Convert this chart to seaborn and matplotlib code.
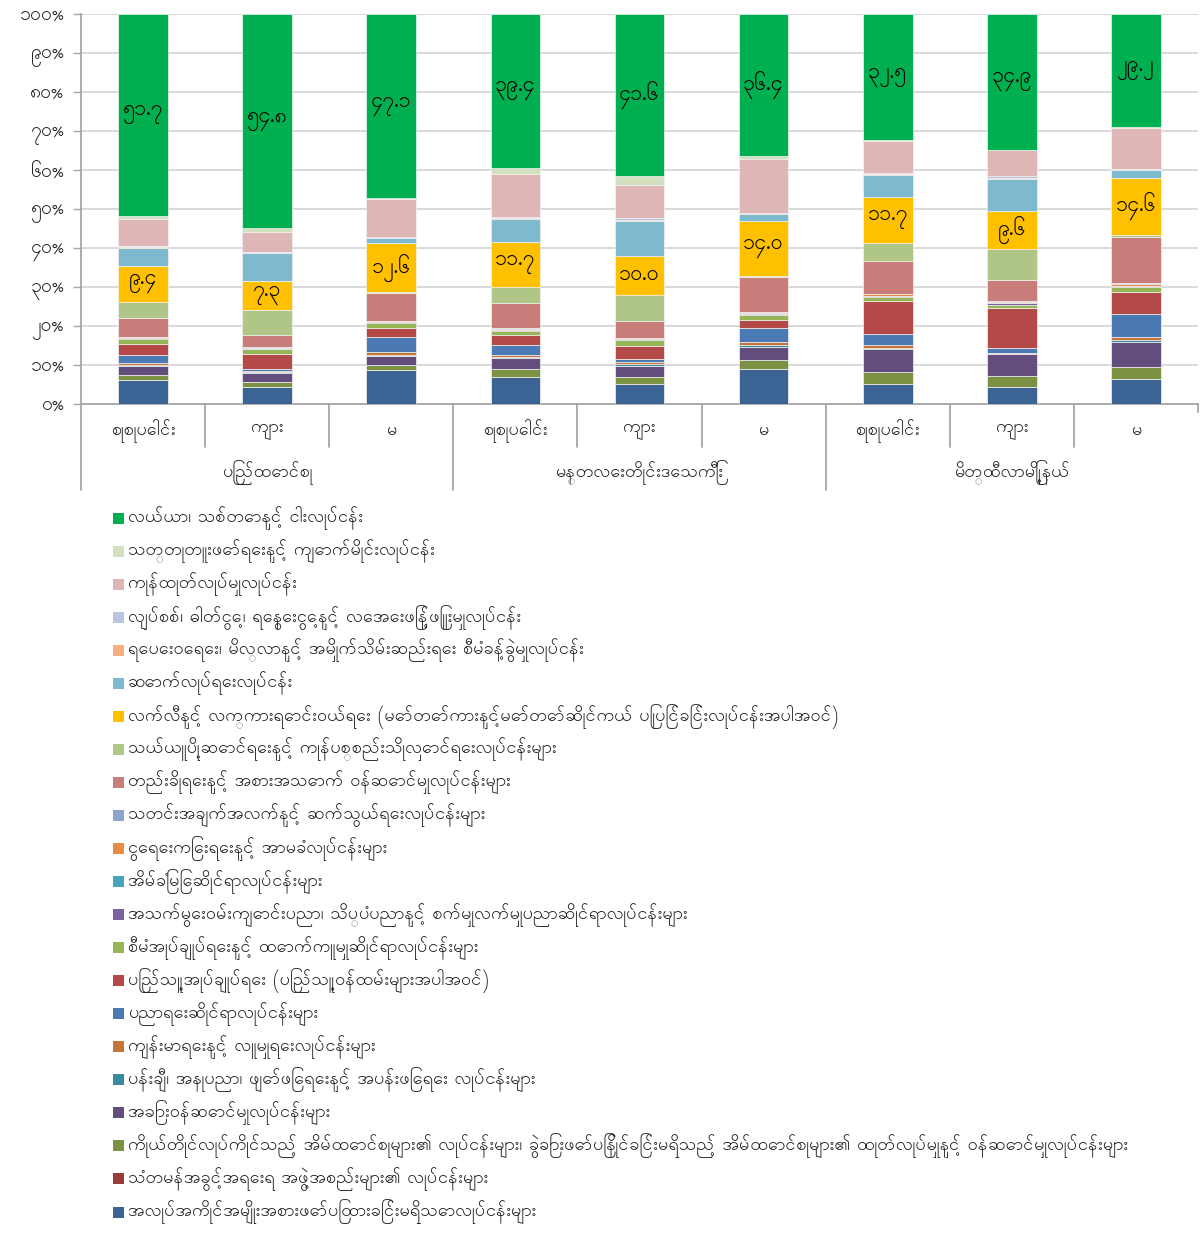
import matplotlib
matplotlib.use("Agg")
import matplotlib.pyplot as plt
import matplotlib.transforms as mtransforms
from matplotlib.patches import Rectangle
from matplotlib.lines import Line2D
from matplotlib import font_manager
import seaborn as sns

# ---------------- data ----------------
groups = ["ပြည်ထောင်စု", "မန္တလေးတိုင်းဒေသကြီး", "မိတ္ထီလာမြို့နယ်"]
subgroups = ["စုစုပေါင်း", "ကျား", "မ"]
bar_keys = ["b0", "b1", "b2", "b3", "b4", "b5", "b6", "b7", "b8"]

series_labels = [
    "လယ်ယာ၊ သစ်တောနှင့် ငါးလုပ်ငန်း",
    "သတ္တုတူးဖော်ရေးနှင့် ကျောက်မိုင်းလုပ်ငန်း",
    "ကုန်ထုတ်လုပ်မှုလုပ်ငန်း",
    "လျှပ်စစ်၊ ဓါတ်ငွေ့၊ ရေနွေးငွေ့နှင့် လေအေးဖြန့်ဖြူးမှုလုပ်ငန်း",
    "ရေပေးဝေရေး၊ မိလ္လာနှင့် အမှိုက်သိမ်းဆည်းရေး စီမံခန့်ခွဲမှုလုပ်ငန်း",
    "ဆောက်လုပ်ရေးလုပ်ငန်း",
    "လက်လီနှင့် လက္ကားရောင်းဝယ်ရေး (မော်တော်ကားနှင့်မော်တော်ဆိုင်ကယ် ပြုပြင်ခြင်းလုပ်ငန်းအပါအဝင်)",
    "သယ်ယူပို့ဆောင်ရေးနှင့် ကုန်ပစ္စည်းသိုလှောင်ရေးလုပ်ငန်းများ",
    "တည်းခိုရေးနှင့် အစားအသောက် ဝန်ဆောင်မှုလုပ်ငန်းများ",
    "သတင်းအချက်အလက်နှင့် ဆက်သွယ်ရေးလုပ်ငန်းများ",
    "ငွေရေးကြေးရေးနှင့် အာမခံလုပ်ငန်းများ",
    "အိမ်ခြံမြေဆိုင်ရာလုပ်ငန်းများ",
    "အသက်မွေးဝမ်းကျောင်းပညာ၊ သိပ္ပံပညာနှင့် စက်မှုလက်မှုပညာဆိုင်ရာလုပ်ငန်းများ",
    "စီမံအုပ်ချုပ်ရေးနှင့် ထောက်ကူမှုဆိုင်ရာလုပ်ငန်းများ",
    "ပြည်သူ့အုပ်ချုပ်ရေး (ပြည်သူ့ဝန်ထမ်းများအပါအဝင်)",
    "ပညာရေးဆိုင်ရာလုပ်ငန်းများ",
    "ကျန်းမာရေးနှင့် လူမှုရေးလုပ်ငန်းများ",
    "ပန်းချီ၊ အနုပညာ၊ ဖျော်ဖြေရေးနှင့် အပန်းဖြေရေး လုပ်ငန်းများ",
    "အခြားဝန်ဆောင်မှုလုပ်ငန်းများ",
    "ကိုယ်တိုင်လုပ်ကိုင်သည့် အိမ်ထောင်စုများ၏ လုပ်ငန်းများ၊ ခွဲခြားဖော်ပြနိုင်ခြင်းမရှိသည့် အိမ်ထောင်စုများ၏ ထုတ်လုပ်မှုနှင့် ဝန်ဆောင်မှုလုပ်ငန်းများ",
    "သံတမန်အခွင့်အရေးရ အဖွဲ့အစည်းများ၏ လုပ်ငန်းများ",
    "အလုပ်အကိုင်အမျိုးအစားဖော်ပြထားခြင်းမရှိသောလုပ်ငန်းများ",
]

series_colors = [
    "#00B050", "#D3E0BF", "#DEB6B6", "#B7C5DE", "#F8AE7E", "#7EB9CE",
    "#FFC000", "#AFC686", "#C97D7B", "#8CA4CC", "#E98B43", "#46A4BE",
    "#7C61A0", "#96B556", "#B34A47", "#4A79B3", "#C57436", "#3A8AA0",
    "#634D7C", "#7A9242", "#9A3B39", "#3B6494",
]

# values in percent, one list per series (top of stack first)
agriculture    = [51.7, 54.8, 47.1, 39.4, 41.6, 36.4, 32.5, 34.9, 29.2]
mining         = [0.9, 1.1, 0.3, 1.7, 2.3, 0.9, 0.2, 0.2, 0.2]
manufacturing  = [7.0, 5.0, 9.7, 11.0, 8.4, 13.7, 8.1, 6.6, 10.4]
electricity    = [0.2, 0.2, 0.2, 0.3, 0.6, 0.2, 0.4, 0.5, 0.2]
water_supply   = [0.1, 0.2, 0.1, 0.2, 0.3, 0.1, 0.2, 0.2, 0.1]
construction   = [4.6, 7.1, 1.2, 5.8, 8.8, 2.0, 5.6, 8.3, 2.0]
wholesale      = [9.4, 7.3, 12.6, 11.7, 10.0, 14.0, 11.7, 9.6, 14.6]
transport      = [4.0, 6.4, 0.3, 4.1, 6.7, 0.3, 4.8, 7.9, 0.5]
accommodation  = [4.8, 3.3, 7.0, 6.4, 4.4, 8.8, 8.3, 5.5, 12.0]
information    = [0.1, 0.1, 0.1, 0.1, 0.1, 0.1, 0.2, 0.3, 0.2]
financial      = [0.2, 0.1, 0.2, 0.2, 0.2, 0.3, 0.3, 0.2, 0.4]
real_estate    = [0.1, 0.1, 0.1, 0.1, 0.1, 0.1, 0.1, 0.1, 0.1]
professional   = [0.2, 0.1, 0.3, 0.3, 0.2, 0.3, 0.2, 0.3, 0.3]
administrative = [1.3, 1.4, 1.2, 1.0, 1.4, 1.3, 1.1, 1.0, 1.1]
public_admin   = [2.9, 3.6, 2.2, 2.7, 3.4, 2.0, 8.4, 10.2, 5.8]
education      = [2.0, 0.6, 3.9, 2.4, 0.8, 3.8, 3.0, 1.2, 5.7]
health         = [0.5, 0.3, 0.8, 0.5, 0.4, 0.7, 0.6, 0.2, 0.9]
arts           = [0.3, 0.3, 0.2, 0.4, 0.5, 0.4, 0.3, 0.2, 0.4]
other_services = [2.2, 2.3, 2.3, 2.8, 2.9, 3.4, 5.9, 5.6, 6.4]
households     = [1.4, 1.2, 1.5, 2.1, 1.7, 2.2, 3.1, 2.8, 3.2]
extraterritorial = [0.0, 0.1, 0.0, 0.0, 0.0, 0.0, 0.0, 0.0, 0.0]
not_stated     = [6.1, 4.3, 8.6, 6.8, 5.2, 9.1, 5.1, 4.3, 6.4]

series_values = [
    agriculture, mining, manufacturing, electricity, water_supply, construction,
    wholesale, transport, accommodation, information, financial, real_estate,
    professional, administrative, public_admin, education, health, arts,
    other_services, households, extraterritorial, not_stated,
]
labeled_series = [0, 6]  # agriculture, wholesale get value labels

y_ticks = [0, 10, 20, 30, 40, 50, 60, 70, 80, 90, 100]

# ---------------- fonts ----------------
sns.set_theme(style="white")
installed = {f.name for f in font_manager.fontManager.ttflist}
families = [f for f in ["Padauk", "Noto Sans Myanmar", "Myanmar Sans Pro"] if f in installed]
plt.rcParams["font.family"] = families + ["DejaVu Sans"]

MM_DIGITS = str.maketrans("0123456789", "၀၁၂၃၄၅၆၇၈၉")
def mm(s):
    return str(s).translate(MM_DIGITS)

# ---------------- figure ----------------
W, H = 1203, 1234
fig = plt.figure(figsize=(W / 100, H / 100), dpi=100)
ax_left, ax_right, ax_top, ax_bottom = 81, 1198, 14, 404
ax = fig.add_axes([ax_left / W, 1 - ax_bottom / H, (ax_right - ax_left) / W, (ax_bottom - ax_top) / H])

bottom = [0.0] * len(bar_keys)
containers = {}
for idx in range(len(series_values) - 1, -1, -1):
    vals = series_values[idx]
    sns.barplot(x=bar_keys, y=vals, order=bar_keys, bottom=bottom, color=series_colors[idx],
                saturation=1, width=0.4, errorbar=None, ax=ax,
                edgecolor="#F2F2F2", linewidth=0.5, zorder=3)
    containers[idx] = ax.containers[-1]
    bottom = [b + v for b, v in zip(bottom, vals)]

for idx in labeled_series:
    ax.bar_label(containers[idx], labels=[mm(f"{v:.1f}") for v in series_values[idx]],
                 label_type="center", fontsize=15.5, color="black")

ax.set_xlim(-0.5, len(bar_keys) - 0.5)
ax.set_ylim(0, 100)
ax.set_yticks(y_ticks)
ax.set_yticklabels([mm(f"{t}%") for t in y_ticks], fontsize=14, color="#222222")
ax.set_xticks([])
ax.set_xlabel("")
ax.set_ylabel("")
ax.yaxis.grid(True, color="#D9D9D9", linewidth=1.4, zorder=0)
ax.set_axisbelow(True)
ax.tick_params(axis="y", which="both", left=True, length=6, width=1, color="#A6A6A6", pad=6)
for side in ["top", "right"]:
    ax.spines[side].set_visible(False)
for side in ["left", "bottom"]:
    ax.spines[side].set_color("#A6A6A6")
    ax.spines[side].set_linewidth(1.3)

# two-level category axis
trans = mtransforms.blended_transform_factory(ax.transData, ax.transAxes)
h_ax = ax_bottom - ax_top
short_y = -(447 - ax_bottom) / h_ax
long_y = -(490 - ax_bottom) / h_ax
for i in range(len(bar_keys) + 1):
    xpos = i - 0.5
    if i == len(bar_keys):
        y_end = -8 / h_ax
    elif i % 3 == 0:
        y_end = long_y
    else:
        y_end = short_y
    ax.add_line(Line2D([xpos, xpos], [0, y_end], transform=trans, color="#A6A6A6",
                       linewidth=1.3, clip_on=False))
for i, key in enumerate(bar_keys):
    ax.text(i, -(431 - ax_bottom) / h_ax, subgroups[i % 3], transform=trans,
            ha="center", va="center", fontsize=13, color="#222222")
for g, name in enumerate(groups):
    ax.text(g * 3 + 1, -(473 - ax_bottom) / h_ax, name, transform=trans,
            ha="center", va="center", fontsize=13, color="#222222")

# legend (manual layout, one column)
row0 = 518
row_step = (1212 - 518) / (len(series_labels) - 1)
for i, (lab, col) in enumerate(zip(series_labels, series_colors)):
    yc = row0 + i * row_step
    fig.patches.append(Rectangle((113 / W, 1 - (yc + 5.5) / H), 11 / W, 11 / H,
                                 transform=fig.transFigure, facecolor=col,
                                 edgecolor="none", figure=fig))
    fig.text(128 / W, 1 - yc / H, lab, ha="left", va="center", fontsize=13, color="#222222")

fig.savefig("out.png", dpi=100)
